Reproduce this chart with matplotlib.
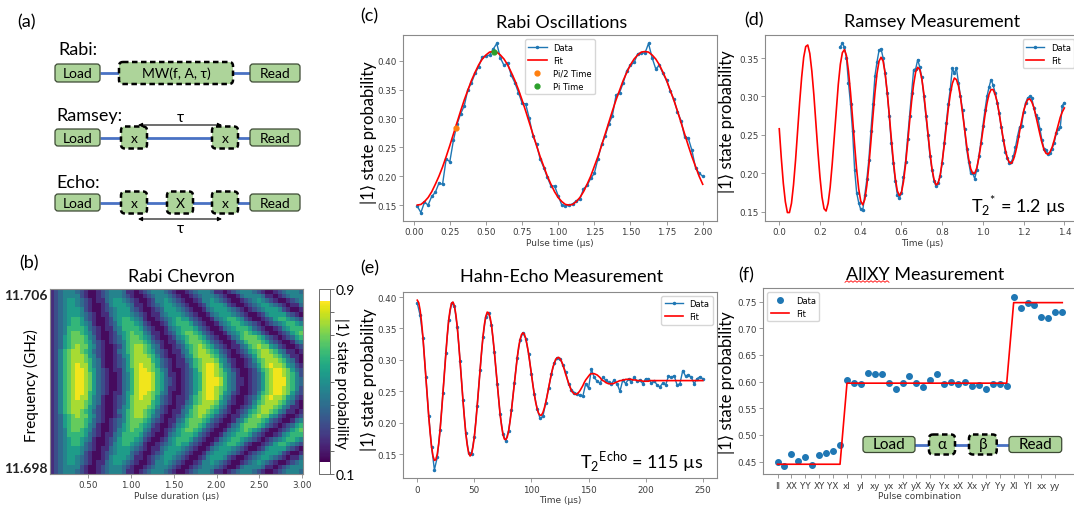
import numpy as np
import matplotlib
matplotlib.use('Agg')
import matplotlib.pyplot as plt
from matplotlib.patches import FancyBboxPatch
from matplotlib.colors import ListedColormap
from matplotlib.ticker import FormatStrFormatter

plt.rcParams['font.family'] = ['DejaVu Sans']
PPT = ['Lato', 'DejaVu Sans']
W, H = 1074, 506

# ---------------- data ----------------
RABI_T = np.arange(1, 81) * 0.025
RABI_FIT = [0.150, 0.151, 0.156, 0.163, 0.173, 0.186, 0.200, 0.216, 0.234, 0.253,
            0.273, 0.293, 0.313, 0.332, 0.349, 0.366, 0.380, 0.393, 0.403, 0.410,
            0.415, 0.416, 0.415, 0.410, 0.403, 0.393, 0.380, 0.366, 0.350, 0.332,
            0.313, 0.293, 0.273, 0.253, 0.234, 0.217, 0.200, 0.186, 0.173, 0.163,
            0.156, 0.151, 0.150, 0.151, 0.156, 0.163, 0.173, 0.186, 0.200, 0.217,
            0.234, 0.253, 0.273, 0.293, 0.313, 0.332, 0.349, 0.366, 0.380, 0.393,
            0.403, 0.410, 0.415, 0.416, 0.415, 0.410, 0.403, 0.393, 0.380, 0.366,
            0.349, 0.332, 0.313, 0.293, 0.273, 0.253, 0.234, 0.217, 0.200, 0.186]
RABI_DATA = [0.148, 0.137, 0.155, 0.150, 0.165, 0.172, 0.188, 0.186, 0.230, 0.225,
             0.262, 0.290, 0.308, 0.322, 0.350, 0.362, 0.378, 0.390, 0.407, 0.408,
             0.410, 0.420, 0.430, 0.405, 0.392, 0.396, 0.375, 0.362, 0.345, 0.327,
             0.325, 0.300, 0.270, 0.255, 0.230, 0.215, 0.198, 0.183, 0.183, 0.166,
             0.150, 0.148, 0.150, 0.152, 0.157, 0.160, 0.178, 0.184, 0.196, 0.205,
             0.230, 0.255, 0.270, 0.290, 0.305, 0.340, 0.345, 0.362, 0.383, 0.392,
             0.397, 0.412, 0.414, 0.413, 0.430, 0.405, 0.386, 0.392, 0.378, 0.366,
             0.348, 0.333, 0.312, 0.296, 0.268, 0.266, 0.245, 0.215, 0.205, 0.200]
PI_HALF = (0.29, 0.283)
PI_FULL = (0.555, 0.416)

RAMSEY_T = np.arange(0, 141) * 0.01
RAMSEY_FIT = [0.258, 0.220, 0.187, 0.163, 0.149, 0.149, 0.161, 0.185, 0.217, 0.254,
              0.292, 0.325, 0.351, 0.365, 0.367, 0.356, 0.333, 0.302, 0.265, 0.228,
              0.195, 0.169, 0.154, 0.151, 0.161, 0.182, 0.212, 0.247, 0.283, 0.316,
              0.342, 0.357, 0.361, 0.353, 0.333, 0.305, 0.272, 0.237, 0.205, 0.180,
              0.164, 0.159, 0.166, 0.184, 0.210, 0.241, 0.274, 0.305, 0.330, 0.346,
              0.351, 0.346, 0.330, 0.306, 0.277, 0.246, 0.217, 0.193, 0.177, 0.171,
              0.175, 0.189, 0.211, 0.238, 0.267, 0.294, 0.316, 0.332, 0.338, 0.335,
              0.323, 0.304, 0.279, 0.253, 0.227, 0.206, 0.192, 0.185, 0.187, 0.197,
              0.215, 0.236, 0.260, 0.284, 0.303, 0.317, 0.324, 0.322, 0.314, 0.299,
              0.279, 0.258, 0.237, 0.219, 0.206, 0.200, 0.200, 0.207, 0.220, 0.237,
              0.256, 0.275, 0.291, 0.303, 0.309, 0.309, 0.303, 0.293, 0.278, 0.261,
              0.245, 0.231, 0.220, 0.214, 0.213, 0.218, 0.227, 0.239, 0.254, 0.268,
              0.281, 0.290, 0.296, 0.297, 0.293, 0.286, 0.275, 0.263, 0.251, 0.240,
              0.231, 0.226, 0.225, 0.228, 0.234, 0.243, 0.253, 0.263, 0.273, 0.280,
              0.285]
RAMSEY_DATA = [0.365, 0.369, 0.364, 0.350, 0.318, 0.290, 0.255, 0.205, 0.175, 0.162,
               0.153, 0.152, 0.172, 0.192, 0.218, 0.255, 0.290, 0.327, 0.345, 0.360,
               0.362, 0.350, 0.330, 0.305, 0.275, 0.240, 0.213, 0.190, 0.172, 0.168,
               0.175, 0.195, 0.215, 0.245, 0.275, 0.305, 0.335, 0.336, 0.348, 0.338,
               0.325, 0.300, 0.275, 0.250, 0.223, 0.205, 0.190, 0.183, 0.188, 0.196,
               0.213, 0.240, 0.265, 0.290, 0.310, 0.337, 0.330, 0.337, 0.318, 0.300,
               0.282, 0.258, 0.232, 0.215, 0.200, 0.200, 0.193, 0.205, 0.222, 0.240,
               0.262, 0.282, 0.300, 0.312, 0.322, 0.315, 0.305, 0.292, 0.278, 0.260,
               0.243, 0.228, 0.220, 0.213, 0.215, 0.222, 0.234, 0.248, 0.260, 0.262,
               0.280, 0.292, 0.298, 0.300, 0.298, 0.285, 0.276, 0.272, 0.258, 0.243,
               0.232, 0.230, 0.225, 0.226, 0.232, 0.240, 0.252, 0.258, 0.260, 0.288,
               0.292]

ECHO_T = np.arange(0, 101) * 2.5
ECHO_DATA = [0.390, 0.371, 0.335, 0.273, 0.211, 0.162, 0.125, 0.145, 0.189, 0.248,
             0.311, 0.363, 0.390, 0.386, 0.353, 0.298, 0.236, 0.183, 0.152, 0.150,
             0.178, 0.227, 0.284, 0.336, 0.369, 0.375, 0.355, 0.313, 0.262, 0.214,
             0.182, 0.171, 0.187, 0.220, 0.263, 0.303, 0.332, 0.343, 0.334, 0.310,
             0.277, 0.245, 0.222, 0.207, 0.210, 0.232, 0.255, 0.278, 0.295, 0.303,
             0.302, 0.292, 0.280, 0.262, 0.252, 0.248, 0.246, 0.244, 0.242, 0.262,
             0.255, 0.285, 0.272, 0.266, 0.263, 0.272, 0.268, 0.264, 0.262, 0.268,
             0.262, 0.250, 0.268, 0.262, 0.270, 0.265, 0.272, 0.266, 0.268, 0.262,
             0.270, 0.270, 0.263, 0.267, 0.260, 0.257, 0.263, 0.260, 0.274, 0.272,
             0.275, 0.260, 0.262, 0.283, 0.274, 0.276, 0.272, 0.262, 0.270, 0.273,
             0.270]
ECHO_FIT_T = np.arange(0, 201) * 1.25
ECHO_FIT = [0.395, 0.391, 0.379, 0.360, 0.335, 0.305, 0.273, 0.241, 0.211, 0.184,
            0.162, 0.147, 0.140, 0.141, 0.150, 0.166, 0.189, 0.217, 0.248, 0.280,
            0.311, 0.339, 0.363, 0.380, 0.390, 0.392, 0.386, 0.373, 0.353, 0.327,
            0.298, 0.267, 0.236, 0.208, 0.183, 0.164, 0.152, 0.147, 0.150, 0.161,
            0.178, 0.200, 0.227, 0.255, 0.284, 0.312, 0.336, 0.356, 0.369, 0.376,
            0.375, 0.368, 0.355, 0.336, 0.313, 0.288, 0.262, 0.237, 0.214, 0.196,
            0.182, 0.174, 0.173, 0.177, 0.187, 0.202, 0.220, 0.241, 0.263, 0.284,
            0.303, 0.320, 0.332, 0.340, 0.343, 0.341, 0.334, 0.323, 0.310, 0.294,
            0.277, 0.260, 0.245, 0.232, 0.222, 0.215, 0.212, 0.212, 0.216, 0.223,
            0.232, 0.243, 0.255, 0.267, 0.278, 0.288, 0.295, 0.301, 0.303, 0.304,
            0.302, 0.298, 0.292, 0.285, 0.277, 0.270, 0.263, 0.257, 0.251, 0.248,
            0.246, 0.245, 0.246, 0.248, 0.251, 0.255, 0.259, 0.264, 0.268, 0.271,
            0.274, 0.277, 0.278, 0.278, 0.278, 0.277, 0.276, 0.274, 0.272, 0.269,
            0.267, 0.266, 0.264, 0.263, 0.262, 0.262, 0.262, 0.262, 0.263, 0.264,
            0.265, 0.266, 0.267, 0.267, 0.268, 0.268, 0.269, 0.269, 0.269, 0.269,
            0.269, 0.268, 0.268, 0.268, 0.267, 0.267, 0.267, 0.267, 0.266, 0.266,
            0.266, 0.266, 0.266] + [0.267] * 38

ALLXY_LABELS = ['II', 'XX', 'YY', 'XY', 'YX', 'xI', 'yI', 'xy', 'yx', 'xY', 'yX',
                'Xy', 'Yx', 'xX', 'Xx', 'yY', 'Yy', 'XI', 'YI', 'xx', 'yy']
ALLXY_DATA = [0.450, 0.442, 0.464, 0.452, 0.458, 0.443, 0.462, 0.466, 0.470, 0.482,
              0.602, 0.597, 0.596, 0.616, 0.615, 0.614, 0.598, 0.586, 0.597, 0.611,
              0.598, 0.590, 0.603, 0.615, 0.596, 0.599, 0.596, 0.599, 0.591, 0.593,
              0.587, 0.595, 0.595, 0.591, 0.759, 0.738, 0.748, 0.743, 0.721, 0.720,
              0.730, 0.731]
ALLXY_FIT = [0.445] * 10 + [0.597] * 24 + [0.748] * 8

# chevron: one string per frequency row (top -> bottom), one digit per pulse
# duration, digit = colour level 0..9
CHEV_T = np.linspace(0.08, 2.985, 60)
CHEV_F = (11.698, 11.706)
CHEV_ROWS = [
    '123444321001234443110123444321001234443110123444321001234443',
    '123444421001234443210012344432100123444321001344443110123444',
    '123455432101134554321001244543210012445432100123454321001234',
    '123455432100124555431101234554321001245554210012345543210113',
    '123455542100123455532100123555432100134555432101234555421001',
    '123455543210113455543210113455543210013455543210012455553210',
    '123456653210012456654310012345655321001345665421001235665432',
    '123456654310012356665421001245666532100134566543210123456654',
    '123466665321011346666532100134566653210013456665321001245666',
    '123467765421001245676643110123567765321001345676542100123567',
    '123567776431001235677654210012456776532100134677765321012356',
    '123567776532101234677765321011346777653210013467776532100134',
    '123567877542100124678876431001235678765321011346787754210012',
    '124678876532100134678876532101134678876532101235678876431101',
    '124678887542100124578887642100124578887643100123578887643110',
    '124678887643100123578888653210113467888754210012467888764310',
    '124678988643100123578988753210112467899864310012357898875421',
    '124678998653210113568998764310012357899875421001246789987532',
    '124678998753210013468999865311012356899876431001235789987642',
    '124678998753210013468999865321012356899986431101235789997643',
    '124678998753210013468999865321012356899986431101235789997643',
    '124678998753210013468999865311012356899876431001235789987642',
    '124678998653210113568998764310012357899875421001246789987532',
    '124678988643100123578988753210112467899864310012357898875421',
    '124678887643100123578888653210113467888754210012467888764310',
    '124678887542100124578887642100124578887643100123578887643110',
    '124678876532100134678876532101134678876532101235678876431101',
    '123567877542100124678876431001235678765321011346787754210012',
    '123567776532101234677765321011346777653210013467776532100134',
    '123567776431001235677654210012456776532100134677765321012356',
    '123467765421001245676643110123567765321001345676542100123567',
    '123466665321011346666532100134566653210013456665321001245666',
    '123456654310012356665421001245666532100134566543210123456654',
    '123456653210012456654310012345655321001345665421001235665432',
    '123455543210113455543210113455543210013455543210012455553210',
    '123455542100123455532100123555432100134555432101234555421001',
    '123455432100124555431101234554321001245554210012345543210113',
    '123455432101134554321001244543210012445432100123454321001234',
    '123444421001234443210012344432100123444321001344443110123444',
    '123444321001234443110123444321001234443110123444321001234443',
]

# ---------------- style ----------------
BLUE = '#1f77b4'
RED = 'red'
GREEN = '#add49a'
LINE_BLUE = '#4a72c4'
TICK_C = '#3c3c3c'
SPINE_C = '#8a8a8a'


def px_box(l, t, r, b):
    return [l / W, 1 - b / H, (r - l) / W, (b - t) / H]


def style(ax, xfmt, yfmt):
    for s in ax.spines.values():
        s.set_color(SPINE_C); s.set_linewidth(0.8)
    ax.tick_params(labelsize=6.3, color=SPINE_C, labelcolor=TICK_C, length=3, width=0.6, pad=1.5)
    if xfmt: ax.xaxis.set_major_formatter(FormatStrFormatter(xfmt))
    if yfmt: ax.yaxis.set_major_formatter(FormatStrFormatter(yfmt))


fig = plt.figure(figsize=(W / 100, H / 100), dpi=100)

def ptext(x, y, s, **kw):
    kw.setdefault('family', PPT)
    kw.setdefault('ha', 'center'); kw.setdefault('va', 'center')
    fig.text(x / W, 1 - y / H, s, **kw)

# (b) Rabi chevron
axb = fig.add_axes(px_box(50, 290, 303, 475))
levels = np.array([[int(c) for c in row] for row in CHEV_ROWS])
prob = 0.17 + levels * 0.66 / 9
cols = np.vstack([np.ones((10, 4)), plt.get_cmap('viridis')(np.linspace(0, 1, 140)), np.ones((10, 4))])
cm = ListedColormap(cols)
dt = CHEV_T[1] - CHEV_T[0]
im = axb.imshow(prob, cmap=cm, vmin=0.1, vmax=0.9, aspect='auto', interpolation='nearest',
                extent=[CHEV_T[0] - dt / 2, CHEV_T[-1] + dt / 2, CHEV_F[0], CHEV_F[1]])
style(axb, '%.2f', None)
axb.set_xticks([0.5, 1.0, 1.5, 2.0, 2.5, 3.0])
axb.set_yticks(CHEV_F)
ylabs = axb.set_yticklabels(['%.3f' % f for f in CHEV_F], family=PPT, fontsize=10,
                            fontweight='bold', color='#222222')
ylabs[0].set_va('bottom'); ylabs[1].set_va('top')
axb.tick_params(axis='y', length=0, pad=2)
axb.set_xlabel('Pulse duration (µs)', fontsize=6.5, color=TICK_C, labelpad=1)
cax = fig.add_axes(px_box(319, 290, 330, 475))
cb = fig.colorbar(im, cax=cax, ticks=np.arange(1, 10) / 10)
cb.ax.set_yticklabels(['0.1'] + [''] * 7 + ['0.9'], family=PPT, fontsize=10)
cb.ax.tick_params(length=3, width=0.6, color='#555555', pad=1)
cb.outline.set_linewidth(0.6); cb.outline.set_edgecolor('#555555')
ptext(341, 383, '|1⟩ state probability', rotation=270, fontsize=11)
ptext(31, 386, 'Frequency (GHz)', rotation=90, fontsize=11)
ptext(181, 277, 'Rabi Chevron', fontsize=13)

# (c) Rabi oscillations
axc = fig.add_axes(px_box(403, 36, 717, 222))
axc.plot(RABI_T, RABI_DATA, '-', marker='.', ms=3, lw=1.0, color=BLUE, label='Data')
axc.plot(RABI_T, RABI_FIT, '-', lw=1.2, color=RED, label='Fit')
axc.plot(*PI_HALF, 'o', ms=3.5, color='#ff7f0e', label='Pi/2 Time')
axc.plot(*PI_FULL, 'o', ms=3.5, color='#2ca02c', label='Pi Time')
style(axc, '%.2f', '%.2f')
axc.set_xticks(np.arange(0, 2.01, 0.25))
axc.set_yticks(np.arange(0.15, 0.41, 0.05))
axc.set_xlabel('Pulse time (µs)', fontsize=6.5, color=TICK_C, labelpad=1)
axc.legend(loc='upper center', fontsize=6, handlelength=2.2)
ptext(562, 23, 'Rabi Oscillations', fontsize=13)

# (d) Ramsey
axd = fig.add_axes(px_box(765, 36, 1078.6, 222))
axd.plot(RAMSEY_T[30:], RAMSEY_DATA, '-', marker='.', ms=3, lw=1.0, color=BLUE, label='Data')
axd.plot(RAMSEY_T, RAMSEY_FIT, '-', lw=1.2, color=RED, label='Fit')
style(axd, '%.1f', '%.2f')
axd.set_xticks(np.arange(0, 1.41, 0.2))
axd.set_yticks(np.arange(0.15, 0.36, 0.05))
axd.set_xlabel('Time (µs)', fontsize=6.5, color=TICK_C, labelpad=1)
axd.legend(loc='upper right', fontsize=6, handlelength=2.2)
ptext(932, 22, 'Ramsey Measurement', fontsize=13)
ptext(1066, 212, 'T$_\\mathregular{2}$$^\\mathregular{*}$ = 1.2 µs', fontsize=13, ha='right', va='baseline')

# (e) Hahn echo
axe = fig.add_axes(px_box(403, 292.7, 717, 479.3))
axe.plot(ECHO_T, ECHO_DATA, '-', marker='.', ms=3, lw=1.0, color=BLUE, label='Data')
axe.plot(ECHO_FIT_T, ECHO_FIT, '-', lw=1.2, color=RED, label='Fit')
style(axe, '%d', '%.2f')
axe.set_xticks(np.arange(0, 251, 50))
axe.set_yticks(np.arange(0.15, 0.41, 0.05))
axe.set_xlabel('Time (µs)', fontsize=6.5, color=TICK_C, labelpad=1)
axe.legend(loc='upper right', fontsize=6, handlelength=2.2)
ptext(562, 277, 'Hahn-Echo Measurement', fontsize=13)
ptext(703, 468, 'T$_\\mathregular{2}$$^\\mathregular{Echo}$ = 115 µs', fontsize=13, ha='right', va='baseline')

# (f) AllXY
axf = fig.add_axes(px_box(763.3, 289.3, 1076.5, 475.3))
xi = np.arange(len(ALLXY_DATA))
axf.plot(xi, ALLXY_DATA, 'o', ms=4, color=BLUE, label='Data')
axf.plot(xi, ALLXY_FIT, '-', lw=1.2, color=RED, label='Fit')
style(axf, None, '%.2f')
axf.set_xticks(xi[::2])
axf.set_xticklabels(ALLXY_LABELS)
axf.set_yticks(np.arange(0.45, 0.76, 0.05))
axf.set_xlabel('Pulse combination', fontsize=6.5, color=TICK_C, labelpad=1)
axf.legend(loc='upper left', fontsize=6, handlelength=2.2)
ptext(925, 275, 'AllXY Measurement', fontsize=13)

for x, y in [(369, 133), (369, 380), (727, 122), (727, 383)]:
    ptext(x, y, '|1⟩ state probability', rotation=90, fontsize=12)
for (x, y), s in zip([(27, 22), (29, 263), (369, 16), (754, 20), (370, 268), (746, 275)],
                     ['(a)', '(b)', '(c)', '(d)', '(e)', '(f)']):
    ptext(x, y, s, fontsize=13)

# overlay for the pulse diagrams
ov = fig.add_axes([0, 0, 1, 1], zorder=10)
ov.set_xlim(0, W); ov.set_ylim(H, 0); ov.axis('off'); ov.patch.set_alpha(0)


def sbox(x0, x1, yc, h, label, fs=10):
    ov.add_patch(FancyBboxPatch((x0, yc - h / 2), x1 - x0, h, boxstyle='round,pad=0,rounding_size=3',
                                fc=GREEN, ec='#3d4a34', lw=0.9, zorder=3))
    ov.text((x0 + x1) / 2, yc, label, ha='center', va='center', family=PPT, fontsize=fs, zorder=4)


def dbox(x0, x1, yc, h, label, fs=10):
    ov.add_patch(FancyBboxPatch((x0, yc - h / 2), x1 - x0, h, boxstyle='round,pad=0,rounding_size=4',
                                fc=GREEN, ec='black', lw=1.8, ls=(0, (2.2, 1.4)), zorder=3))
    ov.text((x0 + x1) / 2, yc, label, ha='center', va='center', family=PPT, fontsize=fs, zorder=4)


def wire(x0, x1, y):
    ov.plot([x0, x1], [y, y], color=LINE_BLUE, lw=2, zorder=2, solid_capstyle='butt')


def span(x0, x1, y):
    ov.annotate('', xy=(x1, y), xytext=(x0, y),
                arrowprops=dict(arrowstyle='<|-|>', color='black', lw=0.8, mutation_scale=6,
                                shrinkA=0, shrinkB=0))

ptext(58, 50, 'Rabi:', fontsize=13, ha='left')
wire(100, 250, 74)
sbox(55, 100, 74, 18, 'Load'); dbox(119, 233, 74, 22, 'MW(f, A, τ)'); sbox(250, 300, 74, 18, 'Read')
ptext(56, 116, 'Ramsey:', fontsize=13, ha='left')
wire(100, 250, 138.5)
sbox(55, 100, 138.5, 17, 'Load'); dbox(121, 147, 138.5, 22, 'x'); dbox(212, 238, 138.5, 22, 'x')
sbox(250, 300, 138.5, 17, 'Read')
span(138, 222, 126); ov.text(180, 118, 'τ', ha='center', va='center', family=PPT, fontsize=11)
ptext(56, 183, 'Echo:', fontsize=13, ha='left')
wire(100, 250, 203.5)
sbox(55, 100, 203.5, 17, 'Load'); dbox(121, 147, 203.5, 22, 'x'); dbox(167, 193, 203.5, 22, 'X')
dbox(212, 238, 203.5, 22, 'x'); sbox(250, 300, 203.5, 17, 'Read')
span(138, 222, 220); ov.text(180, 229, 'τ', ha='center', va='center', family=PPT, fontsize=11)

wire(914, 1009, 445.7)
sbox(863, 915, 445.5, 16, 'Load', fs=11); dbox(929, 955, 445.5, 20, 'α', fs=11)
dbox(969, 996.7, 445.5, 20, 'β', fs=11); sbox(1009, 1061.7, 445.5, 16, 'Read', fs=11)
zz = np.arange(845, 890, 2.0)
ov.plot(zz, 282.5 + 0.8 * (-1) ** np.arange(len(zz)), color='red', lw=0.6)

fig.savefig('out.png', dpi=100)
